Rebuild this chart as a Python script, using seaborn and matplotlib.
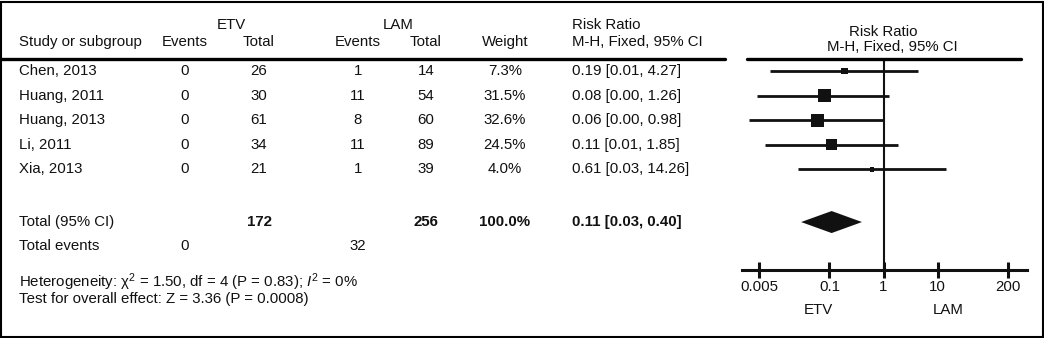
import numpy as np
import pandas as pd
import matplotlib
matplotlib.use('Agg')
import matplotlib.pyplot as plt
from matplotlib.lines import Line2D
from matplotlib.patches import Rectangle
import seaborn as sns

# 数据
studies = ['Chen, 2013', 'Huang, 2011', 'Huang, 2013', 'Li, 2011', 'Xia, 2013']
etv_events = [0, 0, 0, 0, 0]
etv_total = [26, 30, 61, 34, 21]
lam_events = [1, 11, 8, 11, 1]
lam_total = [14, 54, 60, 89, 39]
weights = [7.3, 31.5, 32.6, 24.5, 4.0]
total_weight = 100.0
rr = [0.19, 0.08, 0.06, 0.11, 0.61]
ci_low = [0.008, 0.0046, 0.0033, 0.0065, 0.026]
ci_high = [4.27, 1.26, 0.98, 1.85, 14.26]
pooled = [0.11, 0.03, 0.40]
tick_vals = [0.005, 0.1, 1, 10, 200]
tick_labels = ['0.005', '0.1', '1', '10', '200']

W, H = 1044, 338
sns.set_style('white')
plt.rcParams['font.family'] = ['Liberation Sans', 'DejaVu Sans']
plt.rcParams['mathtext.fontset'] = 'custom'
plt.rcParams['mathtext.rm'] = 'Liberation Sans'
plt.rcParams['mathtext.it'] = 'Liberation Sans:italic'

fig = plt.figure(figsize=(W / 100, H / 100), dpi=100)
FS = 10.8


def px(x, y):
    return x / W, 1 - y / H


def txt(x, y, s, ha='center', bold=False, size=FS, va='center', **kw):
    fig.text(*px(x, y), s, ha=ha, va=va, fontsize=size,
             fontweight='bold' if bold else 'normal', color='#111111', **kw)


# 表头
txt(231, 25, 'ETV')
txt(398, 25, 'LAM')
txt(572, 25, 'Risk Ratio', ha='left')
txt(19, 42, 'Study or subgroup', ha='left')
txt(185, 42, 'Events')
txt(259, 42, 'Total')
txt(358, 42, 'Events')
txt(426, 42, 'Total')
txt(505, 42, 'Weight')
txt(572, 42, 'M-H, Fixed, 95% CI', ha='left')
txt(883, 32, 'Risk Ratio')
txt(892, 47, 'M-H, Fixed, 95% CI')

# 表格行
row_px = 24.6
y0 = 71
for i, s in enumerate(studies):
    y = y0 + i * row_px
    txt(19, y, s, ha='left')
    txt(185, y, str(etv_events[i]))
    txt(259, y, str(etv_total[i]))
    txt(358, y, str(lam_events[i]))
    txt(426, y, str(lam_total[i]))
    txt(505, y, f'{weights[i]:.1f}%')
    txt(572, y, f'{rr[i]:.2f} [{ci_low[i]:.2f}, {ci_high[i]:.2f}]', ha='left')

total_row = 6.14
yt = y0 + total_row * row_px
txt(19, yt, 'Total (95% CI)', ha='left')
txt(259, yt, str(sum(etv_total)), bold=True)
txt(426, yt, str(sum(lam_total)), bold=True)
txt(505, yt, f'{total_weight:.1f}%', bold=True)
txt(572, yt, f'{pooled[0]:.2f} [{pooled[1]:.2f}, {pooled[2]:.2f}]', ha='left', bold=True)

ye = y0 + 7.1 * row_px
txt(19, ye, 'Total events', ha='left')
txt(185, ye, str(sum(etv_events)))
txt(358, ye, str(sum(lam_events)))

txt(19, 288.5, 'Heterogeneity: χ$^{2}$ = 1.50, df = 4 (P = 0.83); $\\mathit{I}^{2}$ = 0%\n'
    'Test for overall effect: Z = 3.36 (P = 0.0008)', ha='left', linespacing=0.95)

# 表头横线
fig.add_artist(Line2D([0, 725 / W], [1 - 59 / H] * 2, color='black', lw=2.4))
# 外框
fig.add_artist(Rectangle((1 / W, 1 / H), 1042 / W, 335 / H, fill=False,
                         edgecolor='black', lw=1.5, transform=fig.transFigure))

# 森林图
ax_left, ax_right, ax_top, ax_bot = 742, 1027, 59, 270
ax = fig.add_axes([ax_left / W, 1 - ax_bot / H, (ax_right - ax_left) / W, (ax_bot - ax_top) / H])
ppd = 54.1
ax.set_xscale('log')
ax.set_xlim(10 ** ((ax_left - 883.5) / ppd), 10 ** ((ax_right - 883.5) / ppd))
top_row = (ax_top - y0) / row_px
bot_row = (ax_bot - y0) / row_px
ax.set_ylim(bot_row, top_row)

df = pd.DataFrame({'rr': rr, 'row': np.arange(len(studies)), 'w': weights})
ax.hlines(df['row'], ci_low, ci_high, color='#111111', lw=2.0)
sns.scatterplot(data=df, x='rr', y='row', size='w', sizes=(0, 87.6), size_norm=(0, 32.6),
                marker='s', color='#111111', linewidth=0, legend=False, ax=ax, zorder=3)

h = 11 / row_px
ax.fill([pooled[1], pooled[0], pooled[2], pooled[0]],
        [total_row, total_row - h, total_row, total_row + h], color='#111111', lw=0)

ax.axvline(1, color='#111111', lw=1.5)
ax.axhline(top_row, xmin=5 / 285, xmax=279 / 285, color='black', lw=2.4, clip_on=False)

for sp in ['top', 'left', 'right']:
    ax.spines[sp].set_visible(False)
ax.spines['bottom'].set_linewidth(2.2)
ax.spines['bottom'].set_color('#111111')
ax.set_yticks([])
ax.set_xticks(tick_vals)
ax.set_xticklabels(tick_labels)
ax.xaxis.set_minor_locator(matplotlib.ticker.NullLocator())
ax.tick_params(axis='x', direction='inout', length=11, width=2.2, colors='#111111',
               labelsize=FS, pad=2, bottom=True)
ax.set_facecolor('none')
ax.set_xlabel('')
ax.set_ylabel('')

txt(818, 310, 'ETV')
txt(948, 310, 'LAM')

fig.savefig('out.png', dpi=100)
